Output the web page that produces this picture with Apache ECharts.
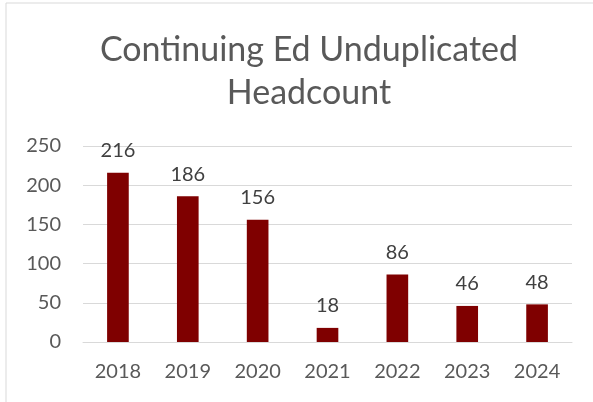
<!DOCTYPE html>
<html><head><meta charset="utf-8">
<script src="https://cdn.jsdelivr.net/npm/echarts@6/dist/echarts.min.js"></script>
<style>html,body{margin:0;padding:0;background:#fff}#c{width:593px;height:402px}</style>
</head><body><div id="c"></div>
<script>
const categories = ['2018','2019','2020','2021','2022','2023','2024'];
const headcount = [216,186,156,18,86,46,48];
const titleText = 'Continuing Ed Unduplicated\nHeadcount';
const fontFam = 'Lato, "Open Sans", sans-serif';
const chart = echarts.init(document.getElementById('c'));
chart.setOption({
  animation:false,
  graphic:[{type:'rect',shape:{x:6,y:3,width:620,height:440},style:{fill:'none',stroke:'#d9d9d9',lineWidth:1}}],
  title:{text:titleText,left:304,textAlign:'center',top:24,textStyle:{fontFamily:fontFam,fontSize:34,fontWeight:'normal',color:'#595959',lineHeight:43}},
  grid:{left:83,right:21,top:146,bottom:60,containLabel:false},
  xAxis:{type:'category',data:categories,axisTick:{show:false},axisLine:{lineStyle:{color:'#d9d9d9',width:1}},
    axisLabel:{fontFamily:fontFam,fontSize:20,color:'#595959',margin:20}},
  yAxis:{type:'value',min:0,max:250,interval:50,axisLine:{show:false},axisTick:{show:false},
    splitLine:{lineStyle:{color:'#d9d9d9',width:1}},
    axisLabel:{fontFamily:fontFam,fontSize:20,color:'#595959',margin:22}},
  series:[{type:'bar',data:headcount,barWidth:'31%',itemStyle:{color:'#7f0000'},
    label:{show:true,position:'top',distance:12,fontFamily:fontFam,fontSize:20,color:'#404040'}}]
});
</script></body></html>
